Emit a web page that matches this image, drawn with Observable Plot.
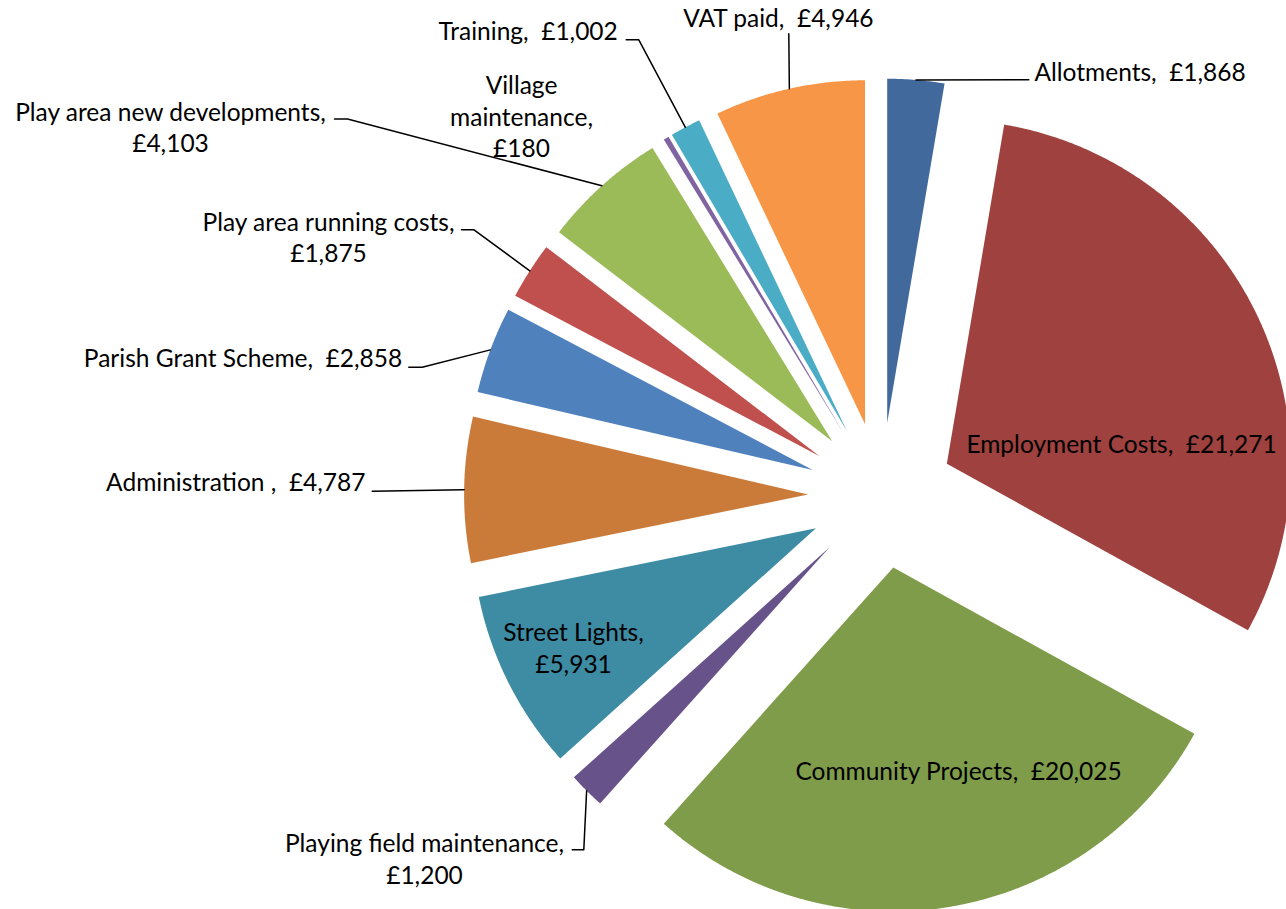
<!DOCTYPE html>
<html><head><meta charset="utf-8">
<script src="https://cdn.jsdelivr.net/npm/d3@7"></script>
<script src="https://cdn.jsdelivr.net/npm/@observablehq/plot@0.6"></script>
<style>
html,body{margin:0;padding:0;background:#fff;overflow:hidden;}
#chart svg text{white-space:pre;}
</style></head><body><div id="chart"></div>
<script>
// ---- data ----
const categories = ["Allotments","Employment Costs","Community Projects","Playing field maintenance","Street Lights","Administration ","Parish Grant Scheme","Play area running costs","Play area new developments","Village maintenance","Training","VAT paid"];
const values = [1868,21271,20025,1200,5931,4787,2858,1875,4103,180,1002,4946];
const colors = ["#41699C","#9E413F","#7F9C4A","#68528A","#3D8CA4","#CB7B39","#4F81BD","#C0504D","#9BBB59","#8064A2","#4BACC6","#F79646"];
// label wrapping style: 1 = one line, 2 = value on second line, 3 = name split + value
const labelWrap = [1,1,1,2,2,1,1,2,2,3,1,1];

// ---- layout (pixels) ----
const W = 1286, H = 909;
const center = {x: 880.6, y: 495}, R = 344, EXPLODE = 73;
const FONT = 24.5, LINE = 31.7;
const labelLayout = [
  {x: 1034, y: 80, anchor: "start", leader: [[1028.3, 79.3]]},
  {x: 1121, y: 452, anchor: "middle", leader: null},
  {x: 958, y: 779, anchor: "middle", leader: null},
  {x: 424, y: 883, anchor: "middle", leader: [[571.7, 849.3],[583.3, 849.3]]},
  {x: 573, y: 672, anchor: "middle", leader: null},
  {x: 365, y: 490, anchor: "end", leader: [[371.7, 490.7]]},
  {x: 401.7, y: 366.7, anchor: "end", leader: [[408.3, 366.7],[421.7, 366.7]]},
  {x: 328, y: 261.7, anchor: "middle", leader: [[461, 229.3],[473.5, 229.3]]},
  {x: 170, y: 151.7, anchor: "middle", leader: [[334, 118.5],[347, 118.5]]},
  {x: 521, y: 156.7, anchor: "middle", leader: null},
  {x: 617.3, y: 39.3, anchor: "end", leader: [[625.7, 39.3],[638.3, 39.3]]},
  {x: 682.7, y: 26.7, anchor: "start", leader: [[788.3, 33.3]]}
];

// ---- build geometry from data ----
const data = categories.map((c, i) => ({cat: c, value: values[i], i}));
const arcs = d3.pie().sort(null).value(d => d.value)(data);
const fmt = d3.format(",");
const slicePts = [], leaderPts = [], labels = [];
arcs.forEach(a => {
  const d = a.data, mid = (a.startAngle + a.endAngle) / 2;
  const ox = center.x + EXPLODE * Math.sin(mid), oy = center.y - EXPLODE * Math.cos(mid);
  slicePts.push({cat: d.cat, x: ox, y: oy});
  const n = Math.max(2, Math.ceil((a.endAngle - a.startAngle) / 0.005));
  for (let k = 0; k <= n; k++) {
    const t = a.startAngle + (a.endAngle - a.startAngle) * k / n;
    slicePts.push({cat: d.cat, x: ox + R * Math.sin(t), y: oy - R * Math.cos(t)});
  }
  slicePts.push({cat: d.cat, x: ox, y: oy});
  const L = labelLayout[d.i];
  const name = d.cat, val = "£" + fmt(d.value);
  const w = labelWrap[d.i];
  const text = w === 1 ? `${name},  ${val}` : w === 2 ? `${name},\n${val}` : `${name.replace(" ", "\n")},\n${val}`;
  labels.push({text, x: L.x, y: L.y, anchor: L.anchor});
  if (L.leader) {
    L.leader.forEach(p => leaderPts.push({cat: d.cat, x: p[0], y: p[1]}));
    leaderPts.push({cat: d.cat, x: ox + R * Math.sin(mid), y: oy - R * Math.cos(mid)});
  }
});

const textOpts = (anchor) => ({
  x: "x", y: "y", text: "text", textAnchor: anchor, lineAnchor: "bottom",
  lineHeight: LINE / FONT, fontSize: FONT, fill: "#000"
});

const chart = Plot.plot({
  width: W, height: H, margin: 0,
  x: {domain: [0, W], range: [0, W], axis: null},
  y: {domain: [0, H], range: [0, H], axis: null},
  color: {domain: categories, range: colors},
  style: {fontFamily: "Lato, 'Open Sans', sans-serif", background: "#fff", overflow: "hidden"},
  marks: [
    Plot.line(slicePts, {x: "x", y: "y", z: "cat", fill: "cat", stroke: "none", curve: "linear-closed"}),
    Plot.line(leaderPts, {x: "x", y: "y", z: "cat", stroke: "#000", strokeWidth: 1.5}),
    Plot.text(labels.filter(d => d.anchor === "start"), textOpts("start")),
    Plot.text(labels.filter(d => d.anchor === "middle"), textOpts("middle")),
    Plot.text(labels.filter(d => d.anchor === "end"), textOpts("end"))
  ]
});
document.getElementById("chart").appendChild(chart);
</script></body></html>
